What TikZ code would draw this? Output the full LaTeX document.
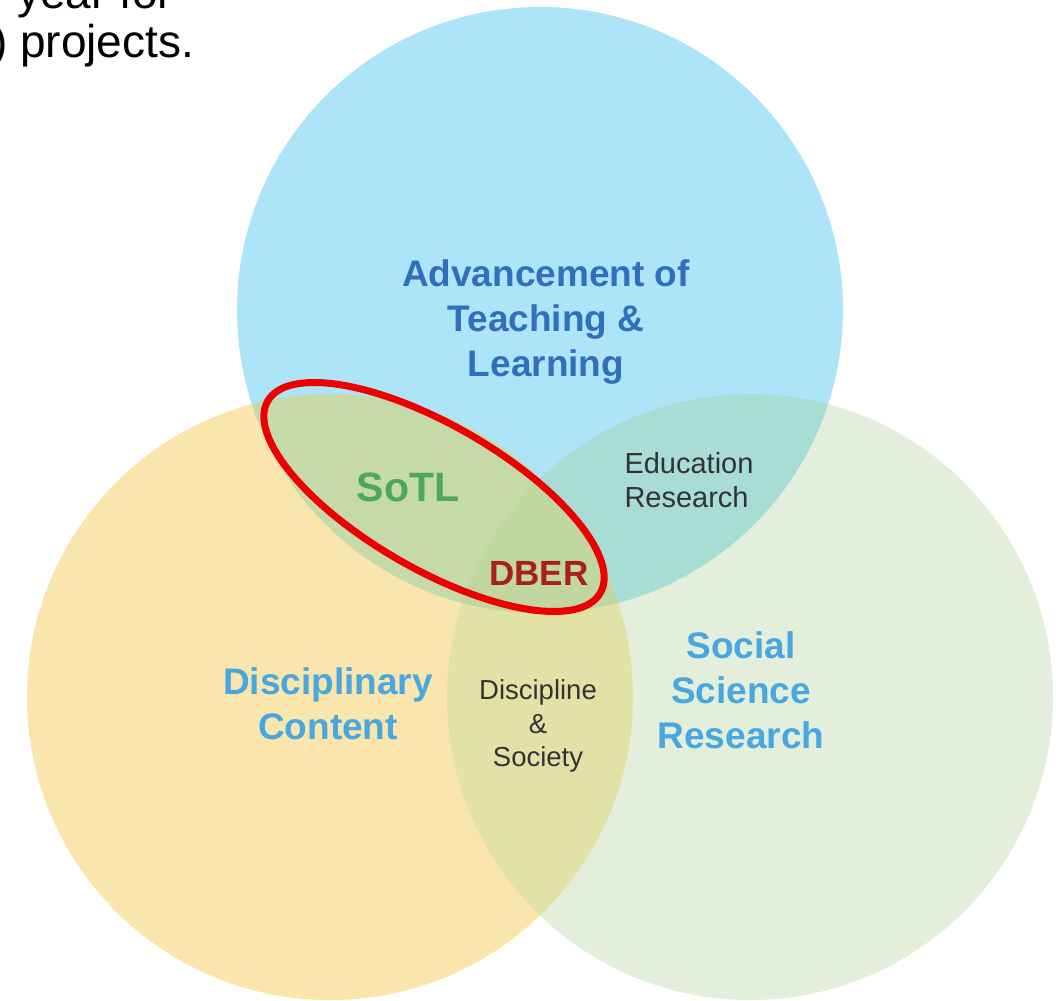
\documentclass[tikz,border=0pt]{standalone}
\usepackage{fontspec}
\setmainfont{Liberation Sans}
\definecolor{cblue}{RGB}{174,228,247}
\definecolor{cyellow}{RGB}{250,230,172}
\definecolor{cgreen}{RGB}{227,239,218}
\definecolor{cBY}{RGB}{198,217,168}
\definecolor{cBG}{RGB}{168,221,214}
\definecolor{cYG}{RGB}{226,225,166}
\definecolor{cBYG}{RGB}{192,215,162}
\definecolor{tdarkblue}{RGB}{48,110,190}
\definecolor{tlightblue}{RGB}{72,166,224}
\definecolor{tgreen}{RGB}{76,168,90}
\definecolor{tred}{RGB}{168,32,28}
\definecolor{tgray}{RGB}{51,51,51}
\definecolor{ringred}{RGB}{236,0,0}
\tikzset{
  biglabel/.style={align=center, inner sep=0pt, font=\bfseries\fontsize{37}{45}\selectfont},
  smalllabel/.style={align=center, inner sep=0pt, text=tgray, font=\fontsize{28}{34}\selectfont},
  toptext/.style={anchor=base west, inner sep=0pt, font=\fontsize{46}{48}\selectfont},
}
\begin{document}
\begin{tikzpicture}[x=1pt,y=-1pt]
\useasboundingbox (0,0) rectangle (1056,1000);
\clip (0,0) rectangle (1056,1000);
\coordinate (B) at (540,310);
\coordinate (Y) at (330,697);
\coordinate (G) at (750,697);
\def\R{303pt}
% base circles
\fill[cyellow] (Y) circle (\R);
\fill[cgreen] (G) circle (\R);
\fill[cblue] (B) circle (\R);
% pairwise overlaps
\begin{scope}\clip (B) circle (\R); \fill[cBY] (Y) circle (\R); \end{scope}
\begin{scope}\clip (B) circle (\R); \fill[cBG] (G) circle (\R); \end{scope}
\begin{scope}\clip (Y) circle (\R); \fill[cYG] (G) circle (\R); \end{scope}
% triple overlap
\begin{scope}\clip (B) circle (\R); \clip (Y) circle (\R); \fill[cBYG] (G) circle (\R); \end{scope}
% top text (cut off at the edge, as in the reference)
\node[toptext] (t1) at (17,9) {year for};
\node[toptext] (t2) at (-8,58) {) projects.};
% labels
\node[biglabel, text=tdarkblue] (adv) at (546,322) {Advancement of\\Teaching \&\\Learning};
\node[biglabel, text=tlightblue] (soc) at (741,690) {Social\\Science\\Research};
\node[biglabel, text=tlightblue] (dis) at (328,704) {Disciplinary\\Content};
\node[inner sep=0pt, text=tgreen, font=\bfseries\fontsize{41}{45}\selectfont] (sotl) at (408,487) {SoTL};
\node[inner sep=0pt, text=tred, font=\bfseries\fontsize{35}{40}\selectfont] (dber) at (539,573) {DBER};
\node[smalllabel, align=left, font=\fontsize{29}{34}\selectfont] (edu) at (689,480) {Education\\Research};
\node[smalllabel, font=\fontsize{27.5}{33.5}\selectfont] (dsoc) at (538,726) {Discipline\\\&\\Society};
% red ellipse
\draw[ringred, line width=7pt, rotate around={-30:(434,497)}] (434,497) ellipse [x radius=192pt, y radius=72pt];
\end{tikzpicture}
\end{document}
